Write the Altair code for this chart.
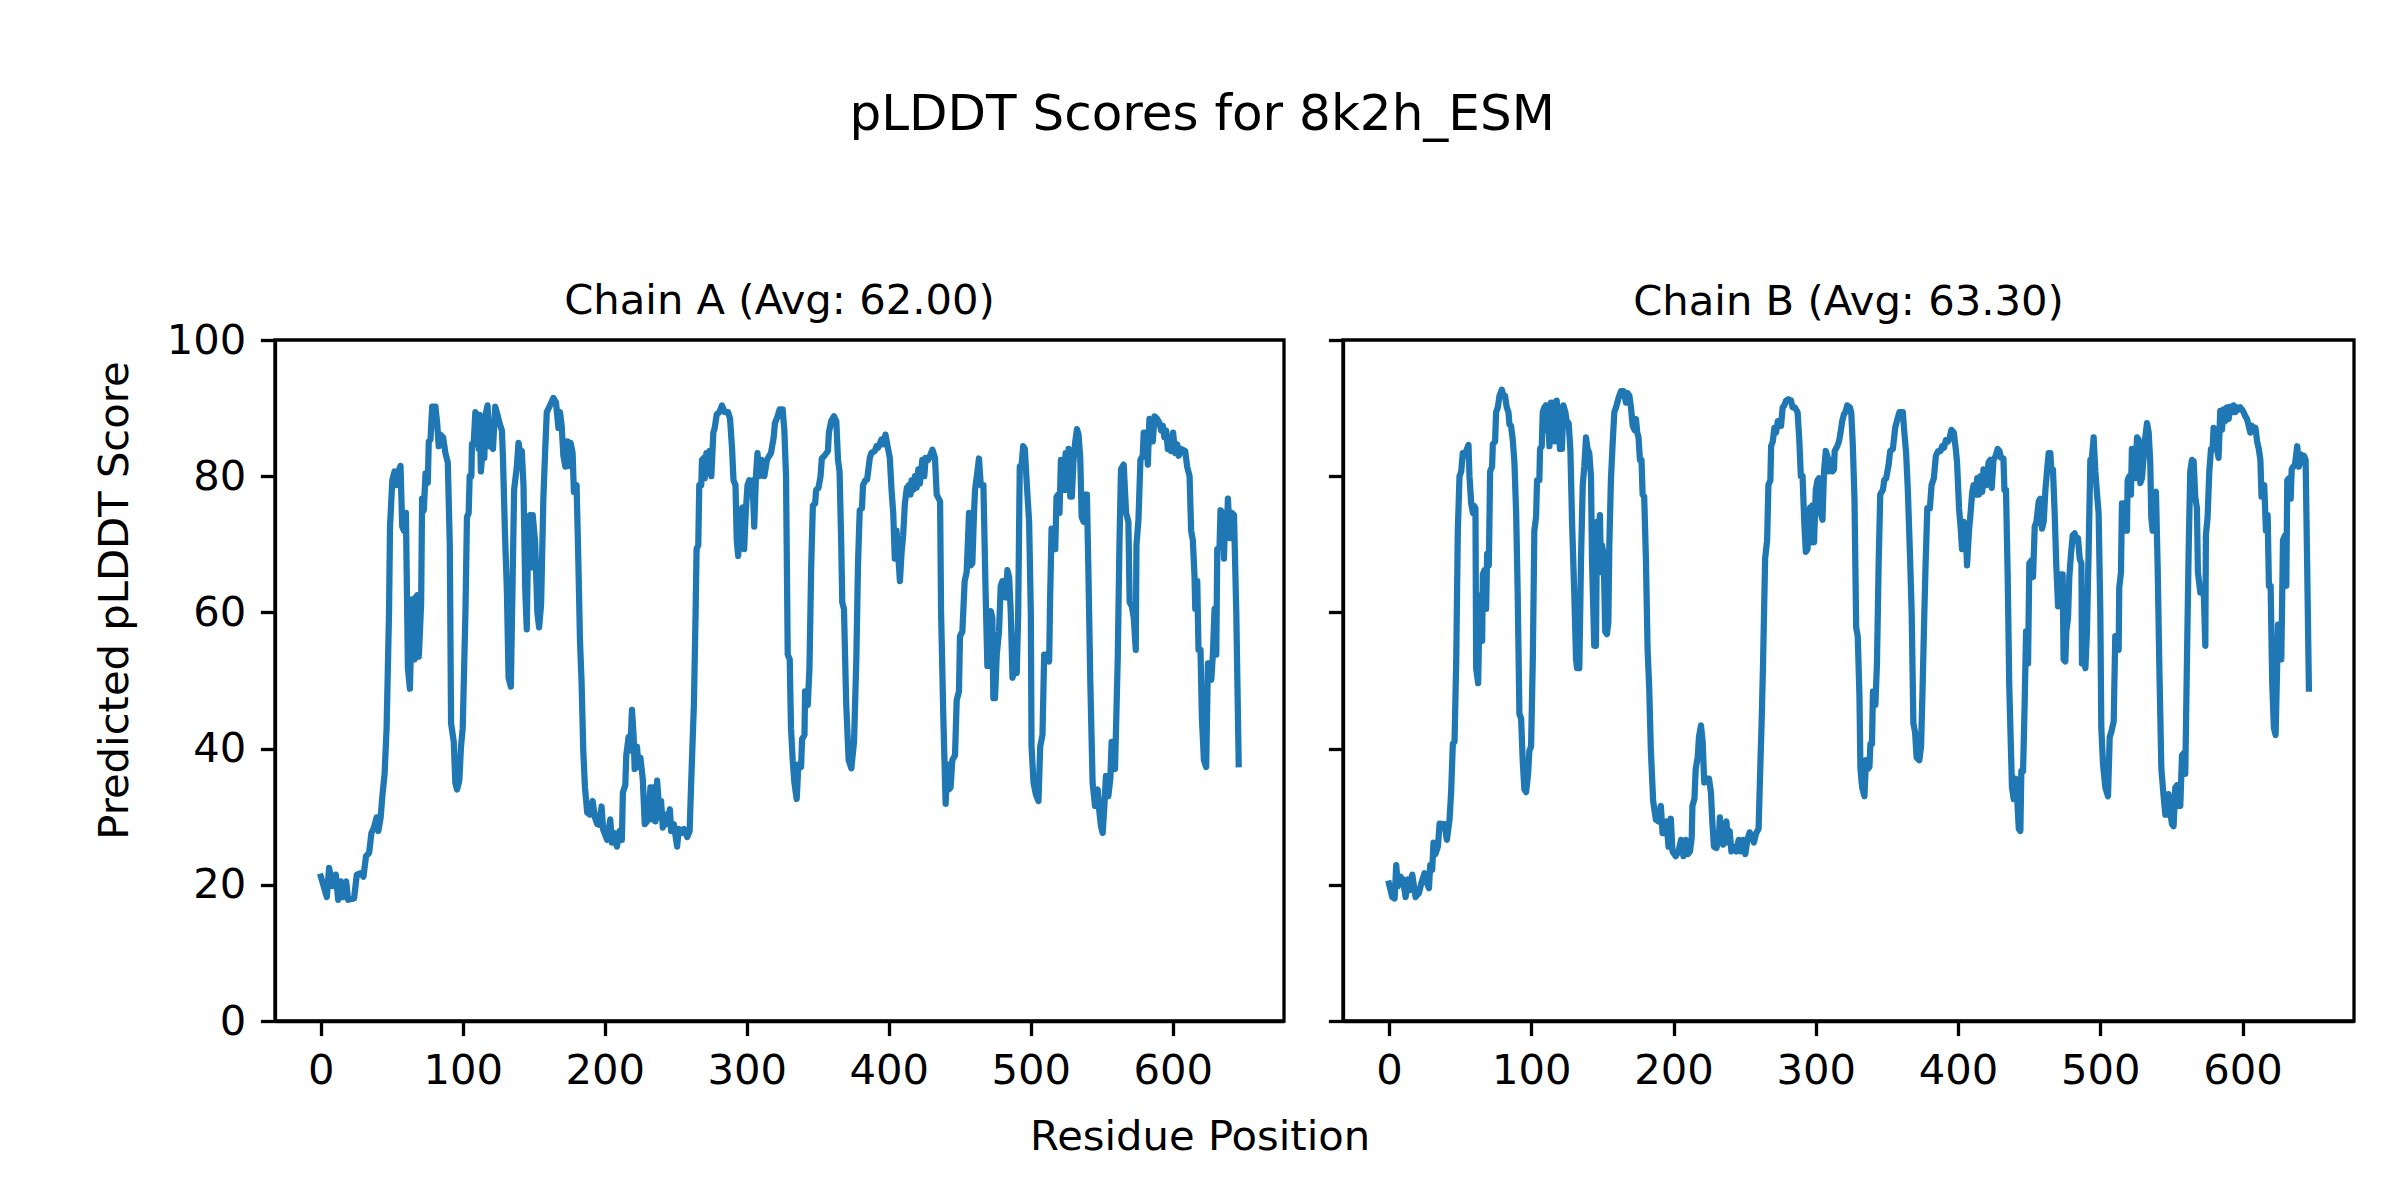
import altair as alt
import pandas as pd

title_main = "pLDDT Scores for 8k2h_ESM"
chain_titles = ["Chain A (Avg: 62.00)", "Chain B (Avg: 63.30)"]
x_label = "Residue Position"
y_label = "Predicted pLDDT Score"
x_ticks = [0, 100, 200, 300, 400, 500, 600]
y_ticks = [0, 20, 40, 60, 80, 100]

# (residue, pLDDT)
chain_a_points = [
    (0, 21.2), (4.2, 18.2), (5.8, 22.5), (8.2, 19.8), (10.5, 21.5), (12.2, 17.8), (14, 20.5), (15.7, 18.2),
    (17.8, 20.5), (19.2, 17.8), (23.4, 18), (25.3, 21.5), (28, 21.7), (30, 21.2), (31.8, 24.2), (34, 24.7),
    (35.6, 27.6), (37.4, 28.4), (39.3, 29.9), (40.5, 27.9), (42.1, 29.9), (43.3, 33), (44.9, 36.3), (46.3, 43),
    (48, 59.9), (48.7, 72.6), (50.3, 79.4), (51.9, 80.7), (53.3, 78.7), (54.5, 80.7), (56.1, 81.5), (57.3, 72.6),
    (58.5, 72), (59.9, 74.6), (61.3, 51.8), (62.7, 48.8), (64.3, 61.9), (66, 53.1), (66.7, 62.2), (67.8, 62.5),
    (69, 53.5), (70.6, 61.2), (71.3, 76.7), (72.5, 75), (73.7, 80.4), (75.3, 79), (76, 85.1), (77.2, 85.4),
    (78.4, 90.2), (80.7, 90.2), (81.9, 87.8), (83, 84.4), (84.2, 86.1), (86.1, 85.7), (87.7, 83.4), (89.4, 82),
    (90.8, 69.9), (91.7, 43.7), (93.6, 41), (94.7, 35), (95.9, 34), (97.5, 35.3), (98.7, 40.3), (99.9, 43),
    (101.8, 59.9), (102.9, 74), (104.1, 74.6), (104.8, 80), (106, 80), (106.4, 84.7), (107.6, 84.7), (108.8, 89.4),
    (109.9, 89), (111.1, 84), (111.8, 89), (112.7, 80.7), (114.2, 84.7), (115.1, 82.7), (116, 89), (117.4, 90.4),
    (118.8, 84.4), (120, 84.4), (121.2, 84), (122.8, 90.2), (124.4, 89), (125.8, 87.8), (127.5, 86.7), (128.2, 83),
    (129.6, 72), (131, 63.2), (132.2, 50.4), (133.8, 49.1), (135.2, 66.6), (136.1, 78), (138, 81.4), (139.2, 84.9),
    (140.4, 83.4), (141.5, 83.7), (142.7, 78.7), (143.9, 63.6), (145, 57.5), (146.2, 74), (147.4, 74.3), (148.6, 66.6),
    (149.2, 74.3), (150.9, 70.3), (152.5, 59.9), (153.7, 57.8), (155.1, 61.2), (156.7, 76.7), (157.9, 83.4), (159.1, 89.4),
    (161.4, 90.4), (163.7, 91.5), (165.6, 90.8), (167.3, 87.1), (168.4, 89.4), (169.6, 87.4), (170.8, 83), (172.2, 81.4),
    (173.6, 85.1), (174.7, 81.5), (175.9, 84.9), (177.3, 83.4), (178.2, 77.7), (180.1, 78.7), (181.3, 67.9), (182.5, 55.8),
    (183.6, 49.8), (184.8, 39.7), (186, 34.3), (187.6, 30.6), (189.5, 30.3), (191.4, 32.3), (193, 29.9), (194.7, 28.9),
    (196, 28.8), (197.7, 31.5), (198.8, 28.1), (201.6, 26.6),
    (203.8, 29.6), (205, 26.2), (206.6, 27.6), (208.5, 25.6), (210.4, 27.9), (212, 26.6), (212.7, 33.6), (214.4, 34.6),
    (215.1, 39), (216.7, 41.7), (217.9, 39.7), (219.1, 45.7), (220.3, 41.7), (221, 37), (222.6, 40.3), (223.8, 37.3),
    (225, 38.7), (226.7, 35.6), (228.1, 28.9), (229.7, 29.3), (230.9, 30.6), (232.1, 34.3), (233.3, 29.6), (234.4, 34.3),
    (235.6, 29.3), (236.8, 35.3), (238.7, 29.9), (239.6, 32.3), (240.8, 28.4), (242.7, 30.3), (243.9, 28.9), (245.8, 31.1),
    (246.7, 27.9), (248.6, 28.9), (250.9, 25.6), (252.1, 28.2), (253.8, 27.6), (255.7, 28.2), (258, 27), (259.7, 27.9),
    (260.8, 35), (262.7, 46.4), (263.9, 59.9), (264.6, 69.3), (265.8, 69.9), (266.5, 78.7), (267.9, 78.7), (268.4, 82.4),
    (269.8, 82.7), (270.3, 79.7), (271.5, 83.4), (272.6, 80.4), (273.8, 83.7), (275, 80), (276.4, 86.4), (277.4, 87.1),
    (278.8, 89.1), (280.7, 89.4), (282.5, 90.4), (284.4, 89.4), (286.8, 89.4), (288.2, 88.4), (289.6, 84), (290.6, 79.4),
    (292, 78.7), (292.9, 70.6), (293.9, 68.3), (294.8, 72), (295.8, 75), (296.9, 75.4), (298.1, 69.3), (299.3, 75),
    (300.5, 78.7), (301.7, 79.4), (302.8, 77.3), (304, 79.4), (305.2, 72.6), (306.4, 80), (307.5, 83.4), (308.7, 80),
    (310.4, 82.4), (312.3, 80), (314.2, 82.4), (315.8, 83), (317, 83.4), (318.9, 85.7), (319.8, 87.8), (321.7, 88.8),
    (323.1, 89.8), (325.2, 89.8), (326.4, 86.8), (327.6, 80), (328.8, 53.8), (330.2, 53.1), (331.1, 43), (332.3, 38.3),
    (333.5, 35), (335.1, 32.6), (336.3, 37.7), (338.2, 37.3), (338.9, 41.4), (340.6, 42), (341, 48.4), (342.9, 46.4),
    (344.1, 51.8), (345.3, 66.6), (346.5, 75.7), (348.1, 76), (348.8, 78), (350.5, 78.3), (351.9, 80), (352.8, 82.6),
    (354.7, 83), (357.1, 83.7), (357.8, 86.4), (359.4, 88.1), (361.3, 88.8), (363, 88.1), (364.2, 82.4), (365.3, 80.7),
    (366.5, 69.9), (367.2, 61.5), (368.4, 60.5), (370, 46.4), (371.7, 38.3), (373.6, 37.1), (375.5, 41), (377.1, 53.1),
    (378.3, 67.2), (379.5, 75), (381.1, 75.3), (381.8, 78.7), (383.5, 79.4), (384.7, 79.5), (386.6, 82.7), (387.7, 83.4),
    (390.1, 83.7), (391.3, 84.4), (392.5, 84.2), (394.8, 85.4), (396, 84.7), (397.6, 86.1), (399.5, 84), (400.7, 82.7),
    (401.9, 78), (403.1, 74.6), (404.2, 67.9), (405.4, 72), (406.6, 68.6), (407.8, 64.6), (409, 68.9), (410.1, 71.3),
    (411.3, 76), (412.7, 78.3), (414.2, 78.7), (415.3, 77.3), (416, 79.4), (417.2, 78), (418.4, 80), (419.6, 78.3),
    (420.8, 81), (421.9, 78.9), (423.6, 82.4), (425, 80), (425.9, 82.7), (427.8, 82.4), (429, 83), (430.7, 83.9),
    (432.5, 82.7), (433.7, 77.3), (436.1, 76.3), (436.8, 59.9), (438.4, 44.4),
    (440, 31.9), (441.2, 37.7), (442.4, 34), (443.5, 34.3), (444.7, 38.3), (446.6, 39), (447.8, 47.1), (449.4, 48.4),
    (450.1, 56.5), (451.8, 57.2), (453.4, 64.6), (454.8, 65.9), (456.5, 74.6), (457.6, 66.9), (458.8, 67.2), (460, 74.6),
    (460.7, 78), (462.4, 80.7), (463.5, 82.6), (464.7, 78.7), (466.6, 78.7), (468.2, 62.5), (469.4, 52.1), (470.6, 52.1),
    (471.8, 60.2), (472.9, 59.2), (473.6, 47.4), (474.8, 47.4), (476, 53.8), (477.6, 57.2), (478.8, 63.9), (480, 64.6),
    (481.2, 64.6), (482.4, 62.2), (483.5, 66.2), (484.7, 65.2), (485.9, 59.9), (487.1, 50.4), (488.2, 51.4), (490.1, 51.1),
    (491.1, 59.9), (492.2, 81.4), (493.4, 81.4), (494.6, 84.4), (495.8, 84), (497.2, 78.7), (498.8, 73.3), (500, 59.9),
    (500.5, 40.3), (501.9, 35), (503.5, 33.3), (505.4, 32.3), (506.6, 40.3), (508.2, 42), (509.4, 53.8), (511.3, 53.8),
    (512.9, 52.8), (513.6, 62.2), (514.6, 72.3), (516, 72), (517.2, 69.3), (518.1, 77), (519.3, 77.3), (520.2, 74.6),
    (521.2, 82.4), (522.8, 82.4), (523.5, 78), (524.5, 83.4), (525.4, 78), (526.6, 84), (527.8, 77), (528.9, 77),
    (530.1, 82.4), (531.3, 85.1), (532.5, 86.9), (533.6, 86.1), (534.8, 82.7), (535.8, 74), (537.2, 73.3), (538.1, 77.3),
    (539.5, 77.3), (540.5, 66.6), (541.9, 49.8), (543.5, 35), (545.2, 31.6), (547.1, 34), (548.2, 30.9), (549.4, 28.6),
    (550.6, 27.6), (551.8, 31.6), (552.9, 36), (554.6, 33), (556, 35.6), (556.9, 41), (558.4, 37), (559.3, 37),
    (561.2, 53.1), (562.4, 69.9), (563.5, 81), (565.4, 81.7), (567.1, 74.6), (568.7, 73.3), (569.6, 61.5), (571.1, 60.9),
    (572.5, 59.2), (573.9, 54.5), (574.4, 69.9), (575.8, 73.6), (577.2, 82.4), (578.8, 83), (579.5, 86.4), (581.2, 86.4),
    (582.4, 81.7), (583.5, 88.4), (584.7, 88.1), (585.9, 85.1), (587.1, 88.8), (589, 88.4), (590.6, 87.8), (591.8, 86.7),
    (593, 87.4), (594.1, 85.7), (595.3, 86.7), (596.5, 84), (597.6, 85.7), (598.8, 83.7), (600.2, 86.4), (601.6, 83.4),
    (603.1, 84.7), (604.2, 83), (605.9, 84), (608.7, 83.7), (610.1, 81.4), (611.8, 80), (612.9, 72), (614.1, 70.6),
    (615.3, 65.2), (615.8, 60.5), (617.2, 64.6), (618.1, 54.5), (619.5, 54.5), (620.5, 44.4), (621.9, 38.3), (623.5, 37.3),
    (624.7, 52.5), (625.9, 52.5), (627.1, 50.1), (628.2, 53.8), (629.4, 60.5), (630.6, 53.8), (631.3, 69.3), (632.9, 69.6),
    (633.6, 75), (635.1, 74.6), (636, 67.9), (637, 74.6), (638.1, 72), (638.8, 76.7), (640.2, 70.9), (641.6, 74.6),
    (643.1, 74.3), (644.7, 59.9), (646.4, 37.7),
]

chain_b_points = [
    (0, 20.2), (2.3, 18.2), (4, 18), (5.1, 22.9), (6.3, 19.8), (8, 21.2), (9.8, 20.8), (11.7, 18.2),
    (13.3, 20.8), (14.5, 19.2), (16.4, 21.5), (18.7, 18.2), (21.1, 18.8), (22.7, 20.2), (25, 21.7), (26.2, 20.5),
    (28.1, 19.5), (29, 22.9), (30.4, 22.2), (31.3, 26.2), (32.7, 24.5), (34.4, 25.6), (35.6, 29), (37.4, 28.9),
    (39.1, 28.9), (40.7, 26.6), (42.6, 29.6), (43.7, 33.6), (44.9, 40.7), (46.1, 41), (47.3, 53.1), (48.4, 72),
    (49.6, 80), (50.8, 80.7), (51.9, 83.4), (53.1, 83), (54.3, 83.7), (55.9, 84.6), (56.6, 80), (57.8, 76),
    (59, 74.6), (59.6, 75.7), (60.8, 75.3), (61.3, 51.8), (62.7, 49.6), (63.6, 59.9), (64.3, 62.5), (65.5, 55.8),
    (66, 65.6), (67.1, 66.2), (68.3, 60.5), (69, 68.6), (70.2, 66.9), (71.1, 80.7), (72.5, 81.4), (73, 84.7),
    (74.6, 85.1), (75.3, 89.4), (76.5, 90.1), (77.7, 91.8), (79.3, 92.7), (80.5, 91.8), (81.6, 91.8), (82.8, 90.1),
    (84, 89.4), (84.7, 87.6), (85.8, 87.4), (87, 85.4), (88.2, 82), (89.4, 74.6), (90.5, 62.5), (91.7, 45.1),
    (92.9, 44.4), (94, 38.3), (95.2, 34), (96.4, 33.6), (97.8, 36.3), (98.7, 39.7), (99.9, 40.3), (101.1, 53.1),
    (102.2, 72), (103.4, 74), (104.1, 79.4), (105.7, 79.4), (106.2, 84), (107.4, 84.4), (108.1, 89.4), (109.2, 90.1),
    (110.4, 90.4), (110.9, 86.7), (111.6, 89.6), (112.8, 84.4), (113.9, 90.8), (114.6, 85.4), (115.6, 90.8), (116.5, 85.1),
    (117.9, 91.1), (119.3, 87.1), (120.2, 84), (121.6, 84), (122.6, 90.4), (124, 89.4), (124.9, 88.1), (126.3, 87.8),
    (127.5, 84), (128.7, 73.3), (130.3, 62.5), (131.5, 53.1), (132.2, 51.8), (133.8, 51.8), (135, 67.9), (136.2, 78.7),
    (137.3, 81.4), (138.5, 85.7), (139.6, 84), (140.8, 83.4), (142, 80), (142.7, 67.9), (144.3, 55.1), (145.5, 55.1),
    (146.2, 73.3), (147.4, 72), (148.3, 74.3), (149, 65.9), (149.7, 69.9), (150.9, 68.6), (152, 57.2), (153.2, 56.8),
    (154.2, 58.5), (154.9, 69.9), (156, 79.4), (157.2, 84.7), (158.4, 89.4), (159.6, 90.1), (161.4, 91.5), (163.1, 92.5),
    (165, 92.5), (166.6, 90.8), (167.8, 92.2), (169, 91.8), (170.1, 90.1), (171.3, 87.4), (172.6, 86.8), (173.6, 88.4),
    (174.5, 86.4), (175.4, 85.7), (176.4, 82.4), (177.5, 82.4), (178.3, 77.3), (179.4, 77), (180.6, 67.9), (181.8, 54.5),
    (182.9, 49.1), (184.1, 39.7), (185.7, 32.3), (187.6, 29.6), (189.5, 29.3), (191.1, 31.6), (192.3, 27.6), (194.2, 27.6),
    (195.1, 29.3), (196.5, 25.6), (198.1, 29.7), (199.3, 24.9), (201.6, 24.2),
    (203.5, 24.9), (205.3, 26.6), (207, 24.2), (208.6, 26.6), (210, 24.5), (211.6, 24.9), (212.8, 26.9), (213.3, 31.6),
    (214.7, 32.6), (215.6, 37), (217, 38.7), (217.9, 41.7), (219.3, 43.4), (220.5, 41), (221.6, 35), (223.3, 35.6),
    (224.9, 35.6), (226.3, 33.6), (227.2, 29.6), (228.4, 25.6), (230.2, 25.4), (231.9, 26.9), (232.6, 29.9), (233.7, 26.9),
    (234.9, 25.9), (236.7, 28.9), (237.2, 29.3), (238.4, 26.2), (239.5, 27.9), (240.7, 24.9), (242.6, 25.6), (244.2, 24.9),
    (245.8, 26.6), (247.2, 24.9), (248.8, 26.6), (250.5, 24.5), (251.9, 26.6), (253.5, 27.7), (255.1, 27.2), (256.5, 26.2),
    (258.1, 27.6), (259.8, 28.2), (260.7, 35), (262.1, 45.1), (263, 53.1), (264.4, 67.9), (265.8, 70.6), (266.7, 78.7),
    (268.1, 79.4), (268.6, 84.4), (269.8, 85.1), (270.9, 87.1), (272.1, 86.4), (273.3, 88.1), (274.4, 87.4), (275.6, 87.4),
    (276.7, 90.1), (277.9, 90.4), (279.1, 91.1), (280.7, 91.3), (282.6, 91.1), (283.7, 90.1), (285.3, 90.1), (287.2, 89.4),
    (288.4, 85.4), (289.5, 80), (290.7, 80), (291.9, 73.3), (293, 68.9), (294.2, 69.3), (294.9, 74.3), (296, 75.4),
    (297, 70.3), (297.7, 75.7), (298.8, 70.3), (300, 78), (301.2, 79.4), (302.3, 79.7), (303.5, 74.6), (304.7, 73.6),
    (305.8, 80.7), (307, 83.7), (308.1, 83), (309.3, 80.7), (310.5, 82.4), (311.6, 80.7), (312.8, 81), (313.3, 83.7),
    (315.1, 84.4), (316.3, 85.1), (317.4, 86.4), (318.6, 88.1), (319.8, 89.1), (320.9, 89.4), (322.1, 90.4), (324, 90.1),
    (324.9, 89.4), (326, 84.7), (327.2, 76.7), (328.4, 57.8), (329.5, 56.5), (330.7, 47.7), (331.4, 37), (332.6, 34.3),
    (334.2, 33), (335.3, 38.3), (336.5, 37), (337.7, 37.3), (338.4, 40.7), (339.5, 40.7), (340.2, 48.4), (341.9, 46.4),
    (343, 52.5), (344.2, 67.2), (345.3, 77.3), (347.2, 78), (348.1, 79.4), (349.5, 79.7), (351.2, 81.7), (352.3, 83.7),
    (354.2, 84), (355.8, 87.1), (357.4, 88.4), (358.8, 89.4), (361.2, 89.4), (362.1, 86.8), (363.5, 83.4), (364.7, 78),
    (366.3, 67.9), (367.4, 59.9), (368.6, 43.7), (369.8, 42.4), (370.9, 38.7), (372.8, 38.3), (374, 40.3), (375.1, 49.1),
    (376.3, 59.9), (377.2, 67.2), (378.4, 75.3), (380.2, 75.3), (381.4, 78.7), (383, 79.7), (384.4, 83), (386, 83.7),
    (387.7, 83.7), (388.8, 84.4), (390.2, 84.2), (391.4, 85.3), (393, 85.1), (394.2, 85.7), (395.3, 86.8), (397, 86.4),
    (398.4, 84), (399.3, 82), (400.7, 75.3), (401.9, 72.3), (402.8, 69.3), (404, 73.3), (405.3, 72.6), (406.3, 66.9),
    (407.7, 72), (408.8, 74.6), (410, 77.7), (410.9, 78.7), (412.3, 77.3), (413.5, 79.7), (414.7, 77.3), (415.8, 80),
    (417, 77.7), (417.9, 81), (419.1, 80.7), (420.2, 78.7), (421.4, 82), (422.6, 82.4), (423.7, 78.3), (424.9, 82.4),
    (426.3, 82.9), (427.9, 84), (429.1, 83.7), (430.2, 82.7), (431.9, 82.6), (432.6, 78), (433.7, 78), (434.9, 65.2),
    (436, 49.1),
    (437.9, 34.3), (439.1, 32.6), (440.3, 35.6), (441.5, 33), (442.7, 28.2), (443.8, 27.9), (444.5, 36.7), (445.7, 36.7),
    (446.8, 46.4), (447.8, 57.2), (449.2, 52.5), (450.1, 67.2), (451.5, 67.6), (452.7, 65.2), (453.9, 72.6), (455.1, 73.3),
    (456.7, 76.3), (457.8, 76.7), (459, 72.3), (460.2, 73.3), (461.4, 78), (462.5, 80.7), (463.7, 83.4), (464.9, 83.4),
    (465.6, 80.7), (466.7, 81), (467.9, 74.6), (469.1, 66.6), (470.3, 60.9), (471.4, 61.2), (472.4, 65.6), (473.5, 65.6),
    (474.2, 53.1), (475.4, 52.8), (476.1, 57.2), (477.3, 59.2), (478.2, 65.2), (479.4, 68.6), (480.6, 71.3), (482, 71.6),
    (483.1, 70.6), (484.3, 70.9), (485.5, 67.9), (486.7, 67.2), (487.1, 52.5), (488.3, 53.1), (489.5, 51.8), (490.6, 57.2),
    (491.8, 69.3), (493, 82.4), (494.1, 82.7), (495.3, 85.7), (496.5, 80.7), (497.7, 77.3), (498.8, 74.6), (500, 59.9),
    (500.7, 43), (501.9, 37.7), (503.5, 34.3), (505.4, 33), (506.6, 41.7), (507.7, 42.4), (509.4, 44), (510.5, 56.5),
    (511.7, 55.8), (512.9, 54.5), (513.3, 63.6), (514.5, 65.9), (515.2, 76), (516.4, 76), (517.6, 72), (518.7, 72),
    (519.2, 79.4), (520.4, 80), (521.5, 77.3), (522.2, 84), (523.4, 84), (524.6, 79.7), (525.8, 85.7), (526.9, 85.4),
    (528.1, 79), (529.3, 79.7), (530.4, 82.7), (531.6, 85.7), (532.8, 87.8), (534, 86.4), (535.1, 82), (535.8, 74),
    (536.8, 72), (537.9, 77.3), (539.1, 77.7), (540.3, 66.6), (541.5, 51.8), (542.9, 37), (544.5, 33), (545.7, 30.3),
    (546.8, 30.3), (548, 33.3), (549.2, 30.6), (550.4, 28.9), (551.5, 28.6), (552.7, 34.3), (553.9, 34.6), (555, 31.6),
    (556.2, 31.6), (557.4, 39), (558.5, 39.3), (559.7, 36.3), (560.9, 53.1), (562.1, 69.3), (563.2, 80.7), (564.4, 82.4),
    (565.6, 82.2), (566.7, 77), (567.9, 75.3), (568.6, 65.9), (570.3, 62.9), (571.4, 62.9), (572.6, 63.6), (573.8, 55.1),
    (574.2, 71.3), (575.4, 74), (576.6, 80.7), (577.8, 84), (578.9, 84), (579.6, 87.1), (580.8, 86.8), (582, 84),
    (583.1, 82.7), (584.3, 89.6), (585.5, 86.8), (586.7, 89.8), (587.8, 88.1), (589, 90.1), (590.2, 88.4), (591.4, 90.2),
    (592.5, 89.4), (593.7, 90.4), (594.9, 89.4), (596.1, 90.1), (597.3, 89.8), (598.4, 90.1), (599.6, 89.8), (600.7, 89.4),
    (601.9, 88.8), (603.1, 88.4), (604.3, 87.4), (605.4, 86.4), (606.6, 87.4), (607.8, 86.7), (609, 87.1), (610.2, 85.1),
    (611.4, 84), (612.5, 82.4), (613.3, 77), (614.2, 77), (615.2, 78.7), (616.4, 72), (617.6, 74.3), (618.5, 63.9),
    (619.7, 63.9), (620.8, 49.8), (622, 43), (623.2, 42), (624.4, 53.1), (624.9, 58.2), (626, 58.2), (627.2, 53.1),
    (628.4, 70.6), (629.8, 71.3), (630.7, 63.9), (631.4, 79.4), (632.6, 79.7), (633.8, 76.7), (634.5, 81), (635.6, 81.4),
    (636.8, 81.7), (638.4, 84.4), (639.6, 81.4), (640.8, 83.2), (641.9, 82), (643.1, 83), (644.3, 82.4), (645.4, 66.6),
    (646.6, 48.8),
]

FONT = "DejaVu Sans"
PT10 = 41.7
PT12 = 50
LW = 3.3
TICK = 14.6
LINE_COLOR = "#1f77b4"
X_DOMAIN = [-32.3, 678.3]


def panel(points, title, show_y, width, title_offset):
    df = pd.DataFrame(points, columns=["residue", "plddt"])
    x_axis = alt.Axis(values=x_ticks, title=None, grid=False, labelFlush=False, format="d")
    if show_y:
        y_axis = alt.Axis(values=y_ticks, title=y_label, grid=False, titlePadding=30, titleY=260)
    else:
        y_axis = alt.Axis(values=y_ticks, title=None, grid=False, labels=False)
    return (
        alt.Chart(df)
        .mark_line(color=LINE_COLOR, strokeWidth=6.25, strokeJoin="round", strokeCap="square")
        .encode(
            x=alt.X("residue:Q", scale=alt.Scale(domain=X_DOMAIN, nice=False, zero=False), axis=x_axis),
            y=alt.Y("plddt:Q", scale=alt.Scale(domain=[0, 100], nice=False), axis=y_axis),
            order="residue:Q",
        )
        .properties(
            width=width,
            height=681,
            title=alt.TitleParams(title, fontSize=PT10, font=FONT, fontWeight="normal",
                                  color="black", offset=title_offset, baseline="alphabetic"),
        )
    )


left = panel(chain_a_points, chain_titles[0], True, 1009, -36)
right = panel(chain_b_points, chain_titles[1], False, 1011, -18)

inner = alt.hconcat(left, right, spacing=39).properties(
    title=alt.TitleParams(x_label, orient="bottom", anchor="middle", fontSize=PT10, font=FONT,
                          fontWeight="normal", color="black", offset=23, baseline="top", dx=-24)
)

chart = (
    alt.vconcat(inner)
    .properties(
        title=alt.TitleParams(title_main, anchor="middle", fontSize=PT12, font=FONT, fontWeight="normal",
                              color="black", offset=100, baseline="alphabetic", dx=-22),
        padding={"left": 84, "top": 81, "right": 20, "bottom": 20},
        background="white",
    )
    .configure_view(stroke="black", strokeWidth=LW)
    .configure_axis(
        domainColor="black", domainWidth=LW, tickColor="black", tickWidth=LW, tickSize=TICK,
        labelFont=FONT, labelFontSize=PT10, labelColor="black", labelPadding=TICK,
        titleFont=FONT, titleFontSize=PT10, titleFontWeight="normal", titleColor="black",
    )
)

chart.save("out.html", embed_options={"renderer": "svg", "actions": False})
